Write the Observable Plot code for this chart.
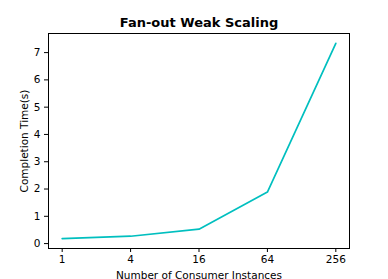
<!DOCTYPE html>
<html>
<head>
<meta charset="utf-8">
<script src="https://cdn.jsdelivr.net/npm/d3@7"></script>
<script src="https://cdn.jsdelivr.net/npm/@observablehq/plot@0.6"></script>
<style>
  html, body { margin: 0; padding: 0; background: #fff; }
</style>
</head>
<body>
<div id="chart"></div>
<script>
const instances = [1, 4, 16, 64, 256];
const times = [0.18, 0.27, 0.53, 1.89, 7.34];
const xTicks = [1, 4, 16, 64, 256];
const yTicks = [0, 1, 2, 3, 4, 5, 6, 7];
const title = "Fan-out Weak Scaling";
const xLabel = "Number of Consumer Instances";
const yLabel = "Completion Time(s)";

const data = instances.map((x, i) => ({x, y: times[i]}));

const chart = Plot.plot({
  width: 388,
  height: 279,
  marginTop: 33,
  marginLeft: 48,
  marginRight: 39,
  marginBottom: 31,
  style: {fontFamily: "DejaVu Sans", fontSize: "10.5px", color: "#000", background: "#fff"},
  x: {type: "log", base: 2, domain: [Math.pow(2, -0.4), Math.pow(2, 8.4)]},
  y: {domain: [-0.18, 7.70]},
  marks: [
    Plot.line(data, {x: "x", y: "y", stroke: "#00bfbf", strokeWidth: 1.7}),
    Plot.frame({stroke: "#000", strokeWidth: 1}),
    Plot.axisX({ticks: xTicks, tickFormat: d => String(d), tickSize: 4, tickPadding: 3,
      label: xLabel, labelAnchor: "center", labelArrow: "none", labelOffset: 30, fontSize: 10.5}),
    Plot.axisY({ticks: yTicks, tickFormat: d => String(d), tickSize: 4, tickPadding: 4,
      label: yLabel, labelAnchor: "center", labelArrow: "none", labelOffset: 28, fontSize: 10.5}),
    Plot.text([title], {frameAnchor: "top", dy: -11, text: d => d, fontWeight: "bold", fontSize: 13, lineAnchor: "middle"})
  ]
});
document.getElementById("chart").appendChild(chart);
</script>
</body>
</html>
